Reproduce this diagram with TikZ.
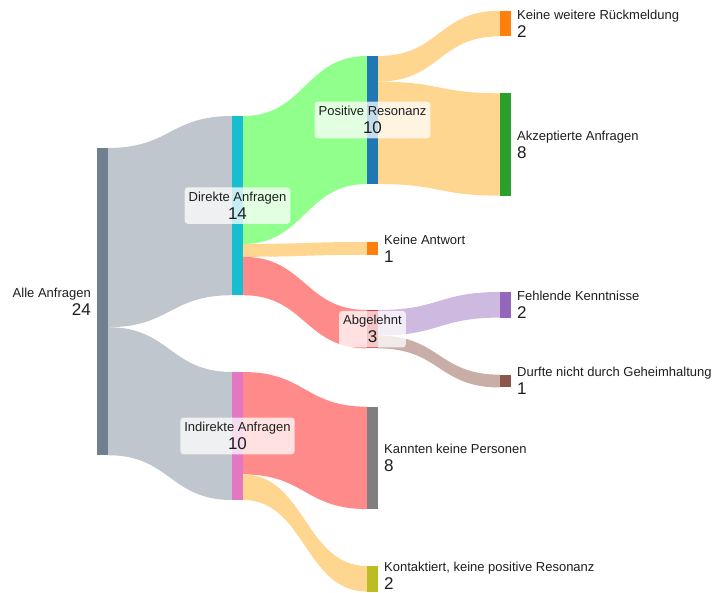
\documentclass[tikz,border=0pt]{standalone}
\usepackage{fontspec}
\setmainfont{Liberation Sans}
\begin{document}
\begin{tikzpicture}[x=1pt,y=-1pt]
\definecolor{cAll}{HTML}{708090}
\definecolor{cAllLink}{RGB}{191,198,205}
\definecolor{cDir}{HTML}{17BECF}
\definecolor{cInd}{HTML}{E377C2}
\definecolor{cPR}{HTML}{1F77B4}
\definecolor{cOrange}{HTML}{FF7F0E}
\definecolor{cRed}{HTML}{D62728}
\definecolor{cGray}{HTML}{7F7F7F}
\definecolor{cOlive}{HTML}{BCBD22}
\definecolor{cGreen}{HTML}{2CA02C}
\definecolor{cPurple}{HTML}{9467BD}
\definecolor{cBrown}{HTML}{8C564B}
\definecolor{lGreen}{RGB}{144,255,140}
\definecolor{lYellow}{RGB}{255,214,143}
\definecolor{lRed}{RGB}{255,138,138}
\definecolor{lPurple}{RGB}{206,186,224}
\definecolor{lBrown}{RGB}{201,174,167}
\definecolor{txt}{RGB}{30,30,30}
\tikzset{
  bar/.style={rectangle, inner sep=0pt, outer sep=0pt, minimum width=11pt, anchor=north west, draw=none},
  midlabel/.style={fill=white, fill opacity=0.75, text opacity=1, rounded corners=3pt, inner xsep=4pt, inner ysep=4.5pt, align=center, text=txt, font=\fontsize{13}{16}\selectfont},
  rlabel/.style={anchor=west, align=left, text=txt, inner sep=0pt, font=\fontsize{13}{16}\selectfont},
  llabel/.style={anchor=east, align=right, text=txt, inner sep=0pt, font=\fontsize{13}{16}\selectfont}
}
\newcommand\uu{12.8}
\newcommand\val[1]{{\fontsize{17}{17}\selectfont #1}}
\newcommand\flow[7]{%
  \fill[#7] ([yshift=-#2*\uu pt]#1.north east) .. controls +(62pt,0) and +(-62pt,0) .. ([yshift=-#5*\uu pt]#4.north west)
    -- ([yshift=-#6*\uu pt]#4.north west) .. controls +(-62pt,0) and +(62pt,0) .. ([yshift=-#3*\uu pt]#1.north east) -- cycle;}
\useasboundingbox (0,0) rectangle (713,593);
% bars
\node[bar, fill=cAll, minimum height=24*\uu pt] (all) at (97,148) {};
\node[bar, fill=cDir, minimum height=14*\uu pt] (dir) at (232,116) {};
\node[bar, fill=cInd, minimum height=10*\uu pt] (ind) at (232,372) {};
\node[bar, fill=cPR, minimum height=10*\uu pt] (pr) at (367,56) {};
\node[bar, fill=cOrange, minimum height=1*\uu pt] (ka) at (367,242) {};
\node[bar, fill=cRed, minimum height=3*\uu pt] (abg) at (367,310) {};
\node[bar, fill=cGray, minimum height=8*\uu pt] (kkp) at (367,406.7) {};
\node[bar, fill=cOlive, minimum height=2*\uu pt] (kon) at (367,566) {};
\node[bar, fill=cOrange, minimum height=2*\uu pt] (kwr) at (500,10.7) {};
\node[bar, fill=cGreen, minimum height=8*\uu pt] (akz) at (500,93.3) {};
\node[bar, fill=cPurple, minimum height=2*\uu pt] (fk) at (500,292) {};
\node[bar, fill=cBrown, minimum height=1*\uu pt] (dng) at (500,374.7) {};
% flows
\flow{all}{0}{14}{dir}{0}{14}{cAllLink}
\flow{all}{14}{24}{ind}{0}{10}{cAllLink}
\flow{dir}{0}{10}{pr}{0}{10}{lGreen}
\flow{dir}{10}{11}{ka}{0}{1}{lYellow}
\flow{dir}{11}{14}{abg}{0}{3}{lRed}
\flow{ind}{0}{8}{kkp}{0}{8}{lRed}
\flow{ind}{8}{10}{kon}{0}{2}{lYellow}
\flow{pr}{0}{2}{kwr}{0}{2}{lYellow}
\flow{pr}{2}{10}{akz}{0}{8}{lYellow}
\flow{abg}{0}{2}{fk}{0}{2}{lPurple}
\flow{abg}{2}{3}{dng}{0}{1}{lBrown}
% redraw bars on top
\foreach \n/\c in {all/cAll,dir/cDir,ind/cInd,pr/cPR,ka/cOrange,abg/cRed,kkp/cGray,kon/cOlive,kwr/cOrange,akz/cGreen,fk/cPurple,dng/cBrown}
  \fill[\c] (\n.north west) rectangle (\n.south east);
% labels
\node[llabel] (tall) at ([xshift=-6pt]all.west) {Alle Anfragen\\[2pt]\val{24}};
\node[midlabel] (tdir) at (dir.center) {Direkte Anfragen\\[2pt]\val{14}};
\node[midlabel] (tind) at (ind.center) {Indirekte Anfragen\\[2pt]\val{10}};
\node[midlabel] (tpr) at (pr.center) {Positive Resonanz\\[2pt]\val{10}};
\node[midlabel] (tabg) at (abg.center) {Abgelehnt\\[2pt]\val{3}};
\node[rlabel] (tka) at ([xshift=6pt]ka.east) {Keine Antwort\\[2pt]\val{1}};
\node[rlabel] (tkkp) at ([xshift=6pt]kkp.east) {Kannten keine Personen\\[2pt]\val{8}};
\node[rlabel] (tkon) at ([xshift=6pt,yshift=3pt]kon.east) {Kontaktiert, keine positive Resonanz\\[2pt]\val{2}};
\node[rlabel] (tkwr) at ([xshift=6pt]kwr.east) {Keine weitere Rückmeldung\\[2pt]\val{2}};
\node[rlabel] (takz) at ([xshift=6pt]akz.east) {Akzeptierte Anfragen\\[2pt]\val{8}};
\node[rlabel] (tfk) at ([xshift=6pt]fk.east) {Fehlende Kenntnisse\\[2pt]\val{2}};
\node[rlabel] (tdng) at ([xshift=6pt]dng.east) {Durfte nicht durch Geheimhaltung\\[2pt]\val{1}};
\end{tikzpicture}
\end{document}
